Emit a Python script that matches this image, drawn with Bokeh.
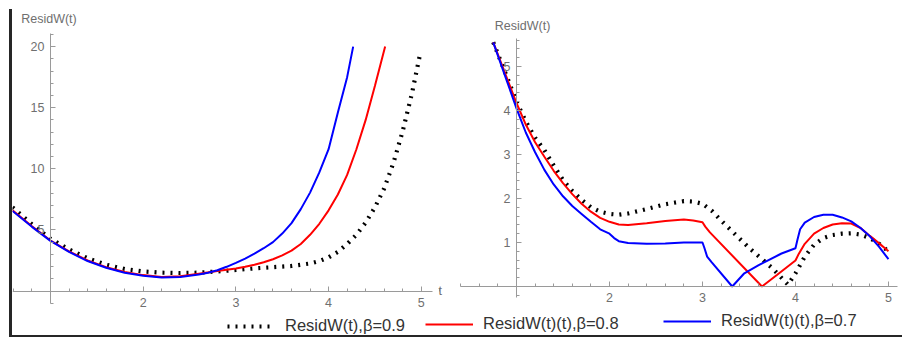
import numpy as np
from bokeh.plotting import figure
from bokeh.models import Range1d, LinearAxis, FixedTicker, Label, Legend, LegendItem, Div, Spacer
from bokeh.layouts import row, column
from bokeh.embed import file_html
from bokeh.resources import INLINE

# ---------------- data ----------------
# left panel
L_T_09 = [0.59, 0.8, 1.0, 1.2, 1.4, 1.6, 1.8, 2.0, 2.2, 2.4, 2.6, 2.8, 3.0, 3.2, 3.4, 3.6,
          3.8, 3.9, 4.0, 4.1, 4.2, 4.3, 4.4, 4.5, 4.6, 4.7, 4.8, 4.9, 4.99]
L_W_09 = [6.85, 5.45, 4.27, 3.4, 2.68, 2.15, 1.8, 1.6, 1.5, 1.47, 1.5, 1.6, 1.72, 1.85, 1.95, 2.05,
          2.25, 2.45, 2.75, 3.2, 3.85, 4.6, 5.6, 6.85, 8.4, 10.5, 13.1, 16.2, 19.5]
L_T_08 = [0.59, 0.8, 1.0, 1.2, 1.4, 1.6, 1.8, 2.0, 2.2, 2.4, 2.6, 2.8, 3.0, 3.1, 3.2, 3.3, 3.4,
          3.5, 3.6, 3.7, 3.8, 3.9, 4.0, 4.1, 4.2, 4.3, 4.4, 4.5, 4.61]
L_W_08 = [6.6, 5.3, 4.13, 3.25, 2.5, 1.95, 1.55, 1.3, 1.15, 1.2, 1.42, 1.64, 1.84, 1.98, 2.15,
          2.35, 2.6, 2.92, 3.3, 3.85, 4.6, 5.5, 6.6, 7.9, 9.5, 11.6, 14.0, 16.8, 20.0]
L_T_07 = [0.59, 0.8, 1.0, 1.2, 1.4, 1.6, 1.8, 2.0, 2.2, 2.4, 2.6, 2.7, 2.8, 2.9, 3.0, 3.1, 3.2,
          3.3, 3.4, 3.5, 3.6, 3.7, 3.8, 3.9, 4.0, 4.1, 4.2, 4.265]
L_W_07 = [6.55, 5.25, 4.1, 3.2, 2.45, 1.9, 1.5, 1.25, 1.1, 1.15, 1.35, 1.5, 1.7, 1.98, 2.3,
          2.65, 3.05, 3.5, 4.0, 4.7, 5.55, 6.7, 8.05, 9.7, 11.6, 14.6, 17.5, 20.0]

# right panel
R_T_09 = [0.75, 0.9, 1.0, 1.1, 1.2, 1.3, 1.4, 1.5, 1.6, 1.7, 1.8, 1.9, 2.0, 2.1, 2.2, 2.4, 2.6,
          2.8, 2.9, 3.0, 3.1, 3.2, 3.5, 3.75, 3.92, 4.0, 4.1, 4.2, 4.3, 4.4, 4.5, 4.6, 4.7, 4.8,
          4.9, 5.0]
R_W_09 = [5.55, 4.75, 4.2, 3.75, 3.38, 3.1, 2.75, 2.42, 2.17, 1.97, 1.8, 1.7, 1.65, 1.63, 1.66,
          1.76, 1.87, 1.94, 1.93, 1.88, 1.72, 1.5, 0.88, 0.42, 0.04, 0.3, 0.68, 0.95, 1.1, 1.17,
          1.2, 1.21, 1.18, 1.1, 0.97, 0.8]
R_T_08 = [0.75, 0.9, 1.0, 1.1, 1.2, 1.3, 1.4, 1.5, 1.6, 1.7, 1.8, 1.9, 2.0, 2.1, 2.2, 2.4, 2.6,
          2.8, 2.9, 3.0, 3.03, 3.08, 3.64, 3.8, 4.0, 4.03, 4.1, 4.2, 4.3, 4.4, 4.5, 4.6, 4.7,
          4.8, 4.9, 5.0]
R_W_08 = [5.55, 4.72, 4.17, 3.68, 3.28, 2.95, 2.63, 2.35, 2.1, 1.88, 1.7, 1.56, 1.47, 1.41, 1.4,
          1.44, 1.49, 1.52, 1.5, 1.46, 1.36, 1.23, 0.0, 0.26, 0.59, 0.72, 0.97, 1.2, 1.33, 1.41,
          1.44, 1.43, 1.33, 1.15, 0.98, 0.8]
R_T_07 = [0.75, 0.9, 1.0, 1.1, 1.2, 1.3, 1.4, 1.5, 1.6, 1.7, 1.8, 1.9, 2.0, 2.05, 2.1, 2.2, 2.4,
          2.6, 2.8, 3.0, 3.02, 3.05, 3.1, 3.32, 3.45, 3.6, 3.7, 3.85, 4.0, 4.02, 4.05, 4.1, 4.2,
          4.3, 4.4, 4.5, 4.6, 4.7, 4.8, 4.9, 5.0]
R_W_07 = [5.55, 4.65, 4.05, 3.5, 3.05, 2.65, 2.32, 2.05, 1.83, 1.65, 1.47, 1.3, 1.2, 1.1, 1.03,
          0.99, 0.97, 0.98, 1.0, 1.0, 0.88, 0.68, 0.55, 0.0, 0.3, 0.48, 0.59, 0.75, 0.87, 1.05,
          1.3, 1.45, 1.58, 1.63, 1.63, 1.57, 1.48, 1.33, 1.14, 0.9, 0.62]

# ticks
X_MAJOR = [2, 3, 4, 5]
L_Y_MAJOR = [5, 10, 15, 20]
R_Y_MAJOR = [1, 2, 3, 4, 5]
X_MINOR = [round(v, 1) for v in np.arange(0.4, 5.21, 0.2) if abs(v - round(v)) > 1e-6]
L_Y_MINOR = [v for v in range(-1, 22) if v % 5 != 0]
R_Y_MINOR = [round(v, 1) for v in np.arange(-0.2, 5.61, 0.2) if abs(v - round(v)) > 1e-6]

LABELS = ["ResidW(t),\u03b2=0.9", "ResidW(t)(t),\u03b2=0.8", "ResidW(t)(t),\u03b2=0.7"]
Y_TITLE = "ResidW(t)"
X_TITLE = "t"

# ---------------- styling ----------------
FONT = "Liberation Sans"
AX_COL = "#9a9a9a"
TXT_COL = "#6f6f6f"
FRAME_COL = "#262626"
PANEL_H = 312


def style_axis(ax, standoff):
    ax.axis_line_color = AX_COL
    ax.major_tick_line_color = AX_COL
    ax.minor_tick_line_color = AX_COL
    ax.major_tick_in = 5
    ax.major_tick_out = 0
    ax.minor_tick_in = 3
    ax.minor_tick_out = 0
    ax.major_label_text_color = TXT_COL
    ax.major_label_text_font = FONT
    ax.major_label_text_font_size = "12.5px"
    ax.major_label_standoff = standoff
    return ax


def make_panel(width, xr, yr, xbounds, ybounds, ymajor, yminor):
    p = figure(width=width, height=PANEL_H, x_range=Range1d(*xr), y_range=Range1d(*yr),
               x_axis_type=None, y_axis_type=None, toolbar_location=None,
               output_backend="svg", min_border=0, outline_line_color=None)
    xa = style_axis(LinearAxis(ticker=FixedTicker(ticks=X_MAJOR, minor_ticks=X_MINOR),
                               bounds=xbounds, fixed_location=0), 7)
    ya = style_axis(LinearAxis(ticker=FixedTicker(ticks=ymajor, minor_ticks=yminor),
                               bounds=ybounds, fixed_location=1), 6)
    p.add_layout(xa, "below")
    p.add_layout(ya, "left")
    return p


dot_kw = dict(line_color="black", line_width=4.2, line_dash="2 6", line_cap="butt")
red_kw = dict(line_color="#ff0000", line_width=2)
blue_kw = dict(line_color="#0000ff", line_width=2)

# left panel: page x = 50 + 92.7 (t-1), page y = 290.5 - 12.22 v ; frame x 12..448, y 0..312
p1 = make_panel(436, (0.5901, 5.2934), (-1.759, 23.77), (0.59, 5.12), (-1.02, 21.07),
                L_Y_MAJOR, L_Y_MINOR)
p1.line(L_T_09, L_W_09, **dot_kw)
p1.line(L_T_08, L_W_08, **red_kw)
p1.line(L_T_07, L_W_07, **blue_kw)
p1.add_layout(Label(x=0.684, y=22.27, text=Y_TITLE, text_font=FONT, text_font_size="12.5px",
                    text_color=TXT_COL, text_baseline="middle", text_align="left"))
p1.add_layout(Label(x=5.186, y=0, text=X_TITLE, text_font=FONT, text_font_size="12.5px",
                    text_color=TXT_COL, text_baseline="middle", text_align="left"))

# right panel: page x = 516 + 93 (t-1), page y = 286 - 44 v ; frame x 448..902, y 0..312
p2 = make_panel(454, (0.2688, 5.151), (-0.591, 6.5), (0.398, 5.097), (-0.24, 5.64),
                R_Y_MAJOR, R_Y_MINOR)
p2.line(R_T_09, R_W_09, **dot_kw)
p2.line(R_T_08, R_W_08, **red_kw)
p2.line(R_T_07, R_W_07, **blue_kw)
p2.add_layout(Label(x=0.767, y=5.93, text=Y_TITLE, text_font=FONT, text_font_size="12.5px",
                    text_color=TXT_COL, text_baseline="middle", text_align="left"))

# legend strip: x 12..902, y 312..335
lf = figure(width=890, height=23, x_range=Range1d(0, 1), y_range=Range1d(0, 1),
            x_axis_type=None, y_axis_type=None, toolbar_location=None,
            output_backend="svg", min_border=0, outline_line_color=None)
nan = np.array([np.nan, np.nan])
rb = lf.line(nan, nan, **dot_kw)
rr = lf.line(nan, nan, **red_kw)
rl = lf.line(nan, nan, **blue_kw)
for r, lab, x0, y0 in [(rb, LABELS[0], 215, 0), (rr, LABELS[1], 413, 2), (rl, LABELS[2], 651, 5)]:
    lg = Legend(items=[LegendItem(label=lab, renderers=[r])], location=(x0, y0),
                orientation="horizontal", padding=0, margin=0, glyph_width=48, glyph_height=16,
                label_height=16, label_standoff=10, label_text_font=FONT,
                label_text_font_size="16.5px", label_text_color="#333333",
                border_line_alpha=0, background_fill_alpha=0)
    lf.add_layout(lg, "center")

bottom_line = Div(width=890, height=2, margin=0, styles={"background-color": FRAME_COL})
bar = Div(width=3, height=328, margin=0, styles={"background-color": FRAME_COL})
bar_col = column(Spacer(width=3, height=9), bar)
main = column(row(p1, p2), lf, bottom_line)
layout = row(Spacer(width=9, height=337), bar_col, main)

open("out.html", "w").write(file_html(layout, INLINE))
